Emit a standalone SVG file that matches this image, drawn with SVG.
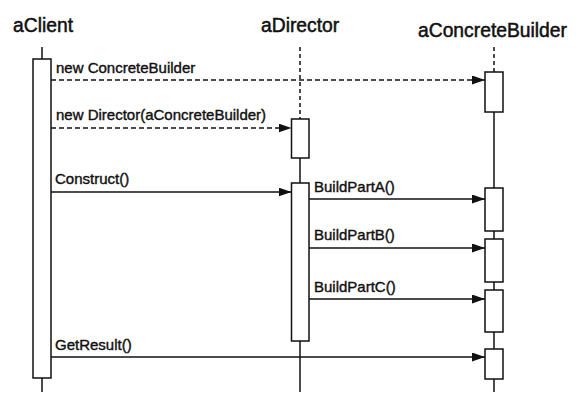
<svg xmlns="http://www.w3.org/2000/svg" width="580" height="409" viewBox="0 0 580 409">
<style>
.title{font-family:"Liberation Sans",Arial,sans-serif;font-size:19.3px;fill:#111;stroke:#111;stroke-width:0.5}
.lbl{font-family:"Liberation Sans",Arial,sans-serif;font-size:15px;fill:#111;stroke:#111;stroke-width:0.4}
.act{fill:#fff;stroke:#111;stroke-width:1.5}
.life{stroke:#111;stroke-width:1.5;fill:none}
.dlife{stroke:#111;stroke-width:1.5;fill:none;stroke-dasharray:4 3}
.msg{stroke:#111;stroke-width:1.5;fill:none;marker-end:url(#arr)}
.dmsg{stroke:#111;stroke-width:1.5;fill:none;stroke-dasharray:5 3;marker-end:url(#arr)}
</style>
<defs>
<marker id="arr" markerWidth="13" markerHeight="9" refX="13" refY="4.5" orient="auto" markerUnits="userSpaceOnUse">
<path d="M0,0 L13,4.5 L0,9 Z" fill="#111"/>
</marker>
</defs>
<rect width="580" height="409" fill="#fff"/>
<g id="aClient">
<text class="title" x="13" y="32">aClient</text>
<line class="life" x1="42" y1="47" x2="42" y2="59"/>
<line class="life" x1="42" y1="378" x2="42" y2="392"/>
<rect class="act" x="33" y="59" width="18" height="319"/>
</g>
<g id="aDirector">
<text class="title" x="261" y="32">aDirector</text>
<line class="dlife" x1="300" y1="47" x2="300" y2="119"/>
<line class="life" x1="300" y1="158" x2="300" y2="183"/>
<line class="life" x1="300" y1="341" x2="300" y2="392"/>
<rect class="act" x="291.5" y="119" width="17.5" height="39"/>
<rect class="act" x="291.5" y="183" width="17.5" height="158"/>
</g>
<g id="aConcreteBuilder">
<text class="title" x="418" y="37">aConcreteBuilder</text>
<line class="dlife" x1="494" y1="47" x2="494" y2="72"/>
<line class="life" x1="494" y1="112" x2="494" y2="392"/>
<rect class="act" x="485" y="72" width="18" height="40"/>
<rect class="act" x="485" y="188" width="18" height="43"/>
<rect class="act" x="485" y="239" width="18" height="43"/>
<rect class="act" x="485" y="290" width="18" height="42"/>
<rect class="act" x="485" y="349" width="18" height="30"/>
</g>
<g id="connectors">
<line class="dmsg" x1="51" y1="80" x2="485" y2="80"/>
<text class="lbl" x="56" y="73">new ConcreteBuilder</text>
<line class="dmsg" x1="51" y1="128" x2="291.5" y2="128"/>
<text class="lbl" x="56" y="120">new Director(aConcreteBuilder)</text>
<line class="msg" x1="51" y1="192" x2="291.5" y2="192"/>
<text class="lbl" x="55" y="184">Construct()</text>
<line class="msg" x1="309" y1="199" x2="485" y2="199"/>
<text class="lbl" x="314" y="192">BuildPartA()</text>
<line class="msg" x1="309" y1="248" x2="485" y2="248"/>
<text class="lbl" x="314" y="240">BuildPartB()</text>
<line class="msg" x1="309" y1="299" x2="485" y2="299"/>
<text class="lbl" x="314" y="292">BuildPartC()</text>
<line class="msg" x1="51" y1="357" x2="485" y2="357"/>
<text class="lbl" x="55" y="350">GetResult()</text>
</g>
</svg>
